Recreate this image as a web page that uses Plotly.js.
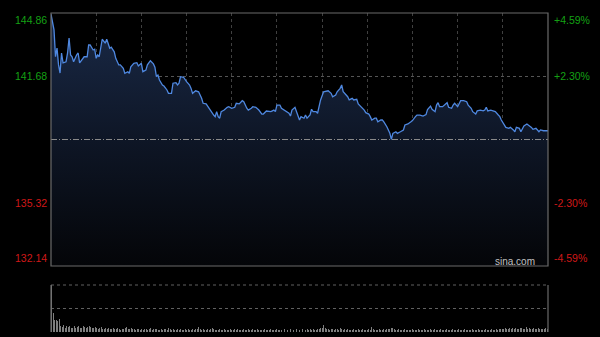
<!DOCTYPE html>
<html><head><meta charset="utf-8">
<script src="https://cdn.plot.ly/plotly-3.0.1.min.js"></script>
<style>html,body{margin:0;padding:0;background:#000;}#chart{width:600px;height:337px;}</style>
</head><body><div id="chart"></div>
<script>
// minutes since open, and price
const minutes = [0,2,3,4,5,6,7,8,10,11,12,13,14,15,17,18,19,21,22,24,25,26,28,29,30,31,32,34,36,37,39,40,42,43,45,46,48,49,51,52,53,55,57,58,60,61,63,64,66,68,69,70,71,72,74,75,77,78,80,81,83,84,85,86,88,90,92,93,94,96,98,100,101,103,105,106,108,109,110,111,112,113,115,117,118,120,122,123,125,127,128,130,131,133,134,136,138,140,141,143,144,146,148,149,150,152,153,154,156,158,159,160,162,163,165,166,168,169,170,172,173,174,176,177,178,179,181,183,184,186,187,189,190,192,193,194,195,197,198,200,201,203,204,206,208,209,211,212,213,215,216,217,219,220,221,223,225,226,227,229,230,232,234,235,237,239,240,242,243,245,247,249,250,252,253,255,256,257,258,260,261,263,264,266,267,268,270,271,272,274,276,277,279,280,282,283,285,287,288,289,290,292,293,295,297,298,299,301,302,304,305,307,308,309,311,312,313,314,316,318,319,320,322,324,325,327,330];
const prices = [144.80,144.01,142.66,143.10,142.25,141.84,142.85,142.35,142.41,142.85,143.60,142.75,142.66,142.41,142.75,142.85,142.35,142.60,142.66,142.66,143.25,143.25,143.00,143.04,142.58,142.75,142.66,143.54,143.34,143.54,143.09,143.14,142.91,142.58,142.25,142.25,142.08,141.83,141.91,141.83,142.16,142.33,142.36,142.20,142.33,141.91,141.99,142.25,142.46,142.30,142.13,141.66,141.74,141.49,141.24,141.19,140.99,140.82,140.82,141.33,141.36,141.24,141.33,141.66,141.63,141.41,141.24,141.07,140.82,140.95,140.90,140.57,140.32,140.29,140.07,139.90,139.73,139.65,139.90,139.65,139.57,139.90,139.98,140.12,140.15,140.07,140.12,140.32,140.29,140.45,140.40,140.07,139.98,140.07,140.15,140.12,139.98,139.78,139.78,139.93,139.93,139.90,139.98,139.90,140.23,140.23,140.07,140.02,139.95,139.82,139.68,139.98,140.12,139.90,139.48,139.65,139.57,139.73,139.57,139.73,140.02,139.90,139.90,139.82,140.23,140.49,140.90,140.95,140.95,140.82,140.65,140.74,140.90,141.07,141.24,140.90,140.82,140.65,140.49,140.57,140.49,140.52,140.29,140.15,139.98,139.85,139.78,139.65,139.48,139.57,139.57,139.39,139.48,139.48,139.39,139.14,138.81,138.51,138.81,138.89,138.81,138.89,138.98,139.23,139.28,139.39,139.45,139.65,139.73,139.73,139.68,139.75,140.00,140.18,140.02,139.90,140.23,140.35,140.15,140.15,140.23,140.35,140.12,140.07,140.23,140.32,140.15,140.35,140.45,140.45,140.40,140.23,140.07,139.90,139.78,139.94,139.98,139.94,139.98,140.12,139.94,139.98,139.94,139.90,139.73,139.65,139.48,139.23,139.11,139.06,139.11,138.98,138.89,139.11,139.06,138.89,139.06,139.18,139.28,139.18,139.11,139.01,139.06,138.89,138.98,138.94,138.94];
// volume per minute (relative units)
const volume = [
100,40,26,25,24,28,12,11,14,9,12,10,13,9,8,12,9,10,13,8,9,12,10,9,11,12,10,9,8,11,
9,7,8,10,7,6,8,7,9,6,7,8,6,7,9,6,5,7,6,8,11,7,6,8,7,6,5,7,6,5,
6,5,7,6,5,6,8,5,6,7,6,5,4,6,5,7,6,5,9,6,5,6,4,5,6,5,7,5,4,6,
5,6,4,5,6,5,7,6,10,7,5,6,5,4,6,5,6,9,6,5,4,5,6,4,5,6,5,4,5,6,
5,4,6,5,7,5,4,5,6,4,5,6,4,5,6,5,4,6,5,4,5,4,6,5,4,5,6,4,5,4,
6,5,4,5,4,6,5,4,5,7,5,4,5,6,4,5,4,6,5,4,6,5,7,5,6,4,5,6,7,8,
9,15,8,7,6,5,7,6,5,6,7,5,8,6,5,6,5,7,5,4,5,6,5,4,6,5,4,6,5,4,
5,6,5,10,6,5,4,5,6,5,4,6,5,6,7,6,8,9,6,5,4,6,5,4,5,6,5,4,5,4,
6,5,4,5,6,4,5,4,6,5,4,5,6,5,4,6,5,4,5,6,4,5,4,6,5,4,5,6,4,5,
4,6,5,4,5,6,4,5,4,5,6,4,5,4,6,5,4,5,4,6,5,4,5,6,4,5,6,5,7,6,
7,6,8,7,6,8,7,9,6,8,7,6,8,9,7,6,11,7,8,6,7,8,6,7,8,6,7,6,7,8,7];
const volMinutes = volume.map((v,i)=>i);
const prevClose = 138.50;
const priceTicks = [144.86, 141.68, 135.32, 132.14];
const pctLabels = ['+4.59%', '+2.30%', '-2.30%', '-4.59%'];
const yMin = 132.14, yMax = 144.86;

const green = '#14a014', red = '#d01818';
const font = 'Liberation Sans, Arial, sans-serif';

const traces = [
  {x: minutes, y: prices, type: 'scatter', mode: 'lines', xaxis: 'x', yaxis: 'y',
   line: {color: '#4f88e0', width: 1.3},
   fill: 'tozeroy',
   fillgradient: {type: 'vertical', start: yMin, stop: yMax,
     colorscale: [[0, 'rgb(4,5,8)'], [0.5, 'rgb(14,22,38)'], [1, 'rgb(26,42,72)']]},
   hoverinfo: 'skip'},
  {x: volMinutes, y: volume, type: 'bar', xaxis: 'x2', yaxis: 'y2',
   marker: {color: '#7e7e7e', line: {width: 0}}, width: 0.65, hoverinfo: 'skip'}
];

const annotations = [];
priceTicks.forEach((v, i) => {
  const anchor = i === 0 ? 'top' : (i === priceTicks.length - 1 ? 'bottom' : 'middle');
  const col = v > prevClose ? green : red;
  annotations.push({xref: 'paper', yref: 'y', x: 0, y: v, xanchor: 'right', yanchor: anchor,
    xshift: -2, yshift: anchor === 'top' ? 1 : 0,
    text: v.toFixed(2), showarrow: false, font: {family: font, size: 10.5, color: col}});
  annotations.push({xref: 'paper', yref: 'y', x: 1, y: v, xanchor: 'left', yanchor: anchor,
    xshift: 4, yshift: anchor === 'top' ? 1 : 0,
    text: pctLabels[i], showarrow: false, font: {family: font, size: 10.5, color: col}});
});
annotations.push({xref: 'paper', yref: 'y', x: 0.978, y: yMin, xanchor: 'right', yanchor: 'bottom',
  yshift: -3, text: 'sina.com', showarrow: false, font: {family: font, size: 10, color: '#c0c0c0'}});

const shapes = [
  {type: 'line', xref: 'x domain', yref: 'y', x0: 0, x1: 1, y0: prevClose, y1: prevClose,
   line: {color: '#8a8a8a', width: 1, dash: '6px,2px,1px,2px'}},
  {type: 'rect', xref: 'x domain', yref: 'y domain', x0: 0, x1: 1, y0: 0, y1: 1,
   line: {color: '#6a6a6a', width: 1.2}, fillcolor: 'rgba(0,0,0,0)'},
  {type: 'line', xref: 'x2 domain', yref: 'y2 domain', x0: 0, x1: 1, y0: 1, y1: 1,
   line: {color: '#606060', width: 1, dash: 'dot'}},
  {type: 'line', xref: 'x2 domain', yref: 'y2 domain', x0: 1, x1: 1, y0: 0, y1: 1,
   line: {color: '#6a6a6a', width: 1.2}},
  {type: 'line', xref: 'x2 domain', yref: 'y2 domain', x0: 0, x1: 0, y0: 0, y1: 1,
   line: {color: '#6a6a6a', width: 1.2}}
];

const layout = {
  width: 600, height: 337,
  paper_bgcolor: '#000', plot_bgcolor: '#000',
  margin: {l: 51, r: 52, t: 13, b: 5},
  showlegend: false,
  xaxis: {domain: [0, 1], range: [0, 330], dtick: 30, tick0: 0, showgrid: true, gridcolor: '#404040',
    griddash: 'dot', gridwidth: 1, showticklabels: false, ticks: '', zeroline: false, showline: false, fixedrange: true},
  yaxis: {domain: [0.2069, 1], range: [yMin, yMax], tickvals: [141.68, 135.32], showgrid: true,
    gridcolor: '#555', griddash: 'dot', showticklabels: false, ticks: '', zeroline: false, showline: false},
  xaxis2: {domain: [0, 1], range: [-0.5, 330.5], anchor: 'y2', showgrid: false, showticklabels: false,
    ticks: '', zeroline: false, showline: false},
  yaxis2: {domain: [0, 0.1473], range: [0, 100], tickvals: [50], showgrid: true, gridcolor: '#606060',
    griddash: 'dot', showticklabels: false, ticks: '', zeroline: false, showline: false, anchor: 'x2'},
  annotations: annotations,
  shapes: shapes,
  bargap: 0
};

Plotly.newPlot('chart', traces, layout, {staticPlot: true, displayModeBar: false});
</script></body></html>
